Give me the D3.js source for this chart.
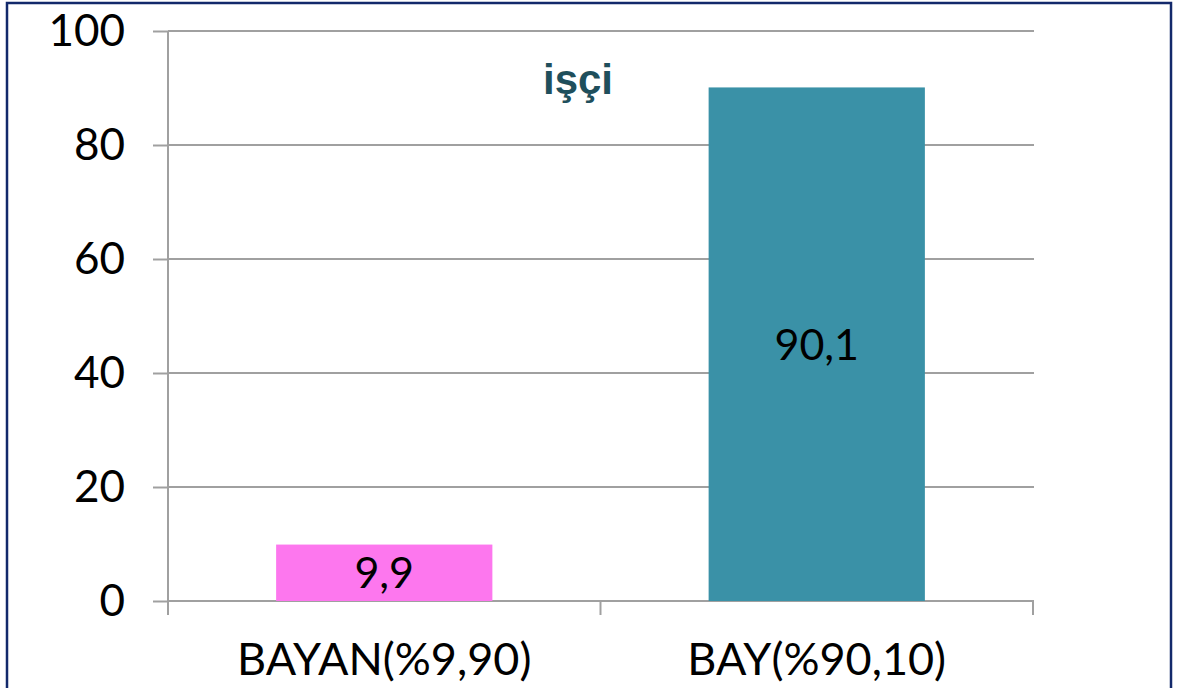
<!DOCTYPE html>
<html>
<head>
<meta charset="utf-8">
<script src="https://cdn.jsdelivr.net/npm/d3@7"></script>
<style>
  html, body { margin: 0; padding: 0; background: #fff; }
  svg { display: block; }
</style>
</head>
<body>
<svg id="chart" width="1180" height="688"></svg>
<script>
const categories = ["BAYAN(%9,90)", "BAY(%90,10)"];
const values = [9.9, 90.1];
const valueLabels = ["9,9", "90,1"];
const barColors = ["#FD77EE", "#3A91A7"];
const yTicks = [0, 20, 40, 60, 80, 100];
const title = "işçi";

const svg = d3.select("#chart");
const plotLeft = 168, plotRight = 1033, plotTop = 31, plotBottom = 601;
const font = "Lato, 'Open Sans', sans-serif";

// frame around the slide
svg.append("rect")
  .attr("x", 7).attr("y", 3)
  .attr("width", 1164).attr("height", 700)
  .attr("fill", "none")
  .attr("stroke", "#13296B")
  .attr("stroke-width", 2.5);

const x = d3.scaleBand()
  .domain(categories)
  .range([plotLeft, plotRight])
  .paddingInner(0.5)
  .paddingOuter(0.25);

const y = d3.scaleLinear().domain([0, 100]).range([plotBottom, plotTop]);

// gridlines
svg.append("g")
  .selectAll("line")
  .data(yTicks)
  .join("line")
  .attr("x1", plotLeft).attr("x2", plotRight + 1)
  .attr("y1", (d) => y(d)).attr("y2", (d) => y(d))
  .attr("stroke", "#A0A0A0")
  .attr("stroke-width", 2);

// y axis
const yAxis = svg.append("g")
  .attr("transform", `translate(${plotLeft},0)`)
  .call(d3.axisLeft(y).tickValues(yTicks).tickSize(15).tickPadding(28));
yAxis.select(".domain").remove();
yAxis.selectAll(".tick line").attr("stroke", "#A0A0A0").attr("stroke-width", 2);
yAxis.selectAll(".tick text")
  .attr("font-family", font)
  .attr("font-size", 44)
  .attr("fill", "#000");

svg.append("line")
  .attr("x1", plotLeft).attr("x2", plotLeft)
  .attr("y1", plotTop).attr("y2", plotBottom + 14)
  .attr("stroke", "#A0A0A0")
  .attr("stroke-width", 2);

// category separators below the axis
const sepX = [plotLeft, (x(categories[0]) + x.bandwidth() + x(categories[1])) / 2, plotRight];
svg.append("g")
  .selectAll("line")
  .data(sepX)
  .join("line")
  .attr("x1", (d) => d).attr("x2", (d) => d)
  .attr("y1", plotBottom).attr("y2", plotBottom + 14)
  .attr("stroke", "#A0A0A0")
  .attr("stroke-width", 2);

// bars
svg.append("g")
  .selectAll("rect")
  .data(values)
  .join("rect")
  .attr("x", (d, i) => x(categories[i]))
  .attr("y", (d) => y(d))
  .attr("width", x.bandwidth())
  .attr("height", (d) => y(0) - y(d))
  .attr("fill", (d, i) => barColors[i]);

// values inside bars
svg.append("g")
  .selectAll("text")
  .data(values)
  .join("text")
  .attr("x", (d, i) => x(categories[i]) + x.bandwidth() / 2)
  .attr("y", (d) => (y(d) + y(0)) / 2)
  .attr("dy", "0.36em")
  .attr("text-anchor", "middle")
  .attr("font-family", font)
  .attr("font-size", 43)
  .attr("fill", "#000")
  .text((d, i) => valueLabels[i]);

// category labels
svg.append("g")
  .selectAll("text")
  .data(categories)
  .join("text")
  .attr("x", (d) => x(d) + x.bandwidth() / 2)
  .attr("y", 675)
  .attr("text-anchor", "middle")
  .attr("font-family", font)
  .attr("font-size", 45)
  .attr("fill", "#000")
  .text((d) => d);

svg.append("text")
  .attr("x", 578)
  .attr("y", 94)
  .attr("text-anchor", "middle")
  .attr("font-family", "Arial, 'Liberation Sans', sans-serif")
  .attr("font-weight", "bold")
  .attr("font-size", 42)
  .attr("fill", "#1F4F5C")
  .text(title);
</script>
</body>
</html>
